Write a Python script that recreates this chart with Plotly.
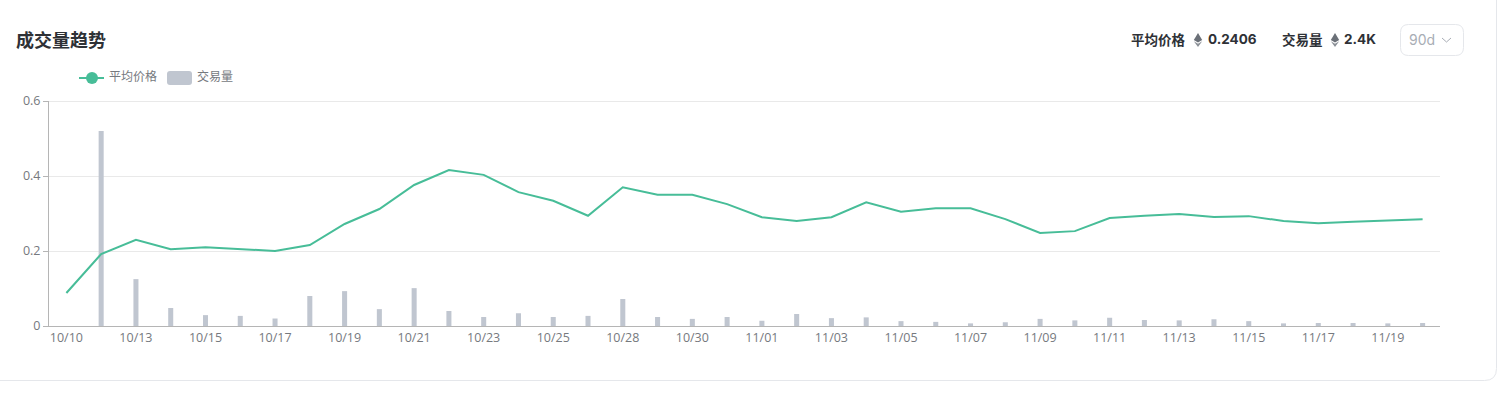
import plotly.graph_objects as go

dates = ["10/10","10/12","10/13","10/14","10/15","10/16","10/17","10/18","10/19","10/20",
         "10/21","10/22","10/23","10/24","10/25","10/26","10/28","10/29","10/30","10/31",
         "11/01","11/02","11/03","11/04","11/05","11/06","11/07","11/08","11/09","11/10",
         "11/11","11/12","11/13","11/14","11/15","11/16","11/17","11/18","11/19","11/20"]
avg_price = [.088,.192,.23,.205,.21,.206,.20,.216,.272,.312,.376,.416,.403,.357,.334,.294,
             .37,.35,.35,.325,.29,.28,.29,.33,.305,.314,.314,.285,.248,.253,.288,.294,.299,
             .291,.293,.28,.274,.278,.282,.285]
volume = [0,.52,.125,.048,.029,.027,.02,.08,.093,.045,.101,.04,.024,.034,.024,.027,.072,.024,
          .019,.024,.014,.032,.021,.023,.013,.011,.007,.01,.019,.015,.022,.016,.015,.018,.013,
          .007,.008,.008,.007,.008]
tick_labels = dates[0:39:2]
y_ticks = [0, 0.2, 0.4, 0.6]
title_text = "成交量趋势"

W, H = 1504, 406
L, R, T, B = 49, 1440, 101, 326
def px(x): return (x - L) / (R - L)
def py(y): return (B - y) / (B - T)
CJK = "Noto Sans CJK SC, Noto Sans, sans-serif"
LATIN = "Inter, Liberation Sans, sans-serif"
GREEN = "#47bd98"
BAR = "#c0c6d0"
MUTED = "#76797e"
DARK = "#2e3136"

fig = go.Figure()
fig.add_trace(go.Scatter(x=dates, y=avg_price, name="平均价格", mode="lines",
                         line=dict(color=GREEN, width=2, shape="linear"), cliponaxis=False))
fig.add_trace(go.Bar(x=dates, y=volume, name="交易量", marker=dict(color=BAR, line=dict(width=0)),
                     width=0.145))

def rrect(x0, y0, x1, y1, r):
    return (f"M{px(x0+r)},{py(y0)} L{px(x1-r)},{py(y0)} Q{px(x1)},{py(y0)} {px(x1)},{py(y0+r)} "
            f"L{px(x1)},{py(y1-r)} Q{px(x1)},{py(y1)} {px(x1-r)},{py(y1)} "
            f"L{px(x0+r)},{py(y1)} Q{px(x0)},{py(y1)} {px(x0)},{py(y1-r)} "
            f"L{px(x0)},{py(y0+r)} Q{px(x0)},{py(y0)} {px(x0+r)},{py(y0)} Z")

def eth(cx, cy):
    top = (f"M{px(cx)},{py(cy-7)} L{px(cx+4.2)},{py(cy)} L{px(cx)},{py(cy+2.5)} "
           f"L{px(cx-4.2)},{py(cy)} Z")
    bottom = (f"M{px(cx-4.2)},{py(cy+1.2)} L{px(cx)},{py(cy+3.7)} L{px(cx+4.2)},{py(cy+1.2)} "
              f"L{px(cx)},{py(cy+7)} Z")
    return [dict(type="path", xref="paper", yref="paper", path=top, line=dict(width=0), fillcolor="#6b7078"),
            dict(type="path", xref="paper", yref="paper", path=bottom, line=dict(width=0), fillcolor="#8b9097")]

shapes = [
    dict(type="path", xref="paper", yref="paper", path=rrect(-20, -20, 1496.5, 380.5, 12),
         line=dict(color="#e5e7eb", width=1), fillcolor="rgba(0,0,0,0)", layer="below"),
    dict(type="path", xref="paper", yref="paper", path=rrect(1400.5, 24.5, 1463.5, 55.5, 8),
         line=dict(color="#e5e7eb", width=1), fillcolor="white", layer="below"),
    dict(type="path", xref="paper", yref="paper",
         path=f"M{px(1442)},{py(38)} L{px(1446.5)},{py(42)} L{px(1451)},{py(38)}",
         line=dict(color="#a8adb5", width=1)),
    dict(type="path", xref="paper", yref="paper", path=rrect(167, 71, 192, 85, 3),
         line=dict(width=0), fillcolor=BAR, layer="below"),
    dict(type="line", xref="paper", yref="paper", x0=px(79), x1=px(104), y0=py(78), y1=py(78),
         line=dict(color=GREEN, width=2), layer="below"),
    dict(type="circle", xref="paper", yref="paper", x0=px(86), x1=px(98), y0=py(72), y1=py(84),
         line=dict(width=0), fillcolor=GREEN, layer="below"),
    dict(type="line", xref="paper", yref="paper", x0=0, x1=1, y0=py(101.5), y1=py(101.5),
         line=dict(color="#e9e9e9", width=1), layer="below"),
] + eth(1198, 40) + eth(1335, 40)

def label(x, y, text, size, color, bold=False, family=CJK):
    t = f"<b>{text}</b>" if bold else text
    return dict(xref="paper", yref="paper", x=px(x - 2), y=py(y), text=t, showarrow=False,
                xanchor="left", yanchor="middle",
                font=dict(size=size, color=color, family=family))

annotations = [
    label(16, 39, title_text, 18, DARK, bold=True),
    label(109, 75.5, "平均价格", 12, MUTED),
    label(197, 75.5, "交易量", 12, MUTED),
    label(1131, 39, "平均价格", 13.5, DARK, bold=True),
    label(1208, 39.5, "0.2406", 13.5, DARK, bold=True, family=LATIN),
    label(1282, 39, "交易量", 13.5, DARK, bold=True),
    label(1344, 39.5, "2.4K", 13.5, DARK, bold=True, family=LATIN),
    label(1409, 39.5, "90d", 14, "#a8adb5", family=LATIN),
]

fig.update_layout(
    width=W, height=H, autosize=False,
    margin=dict(l=L, r=W - R, t=T, b=H - B, pad=0),
    paper_bgcolor="white", plot_bgcolor="white",
    showlegend=False, bargap=0.8, shapes=shapes, annotations=annotations,
    font=dict(family="Open Sans, Noto Sans, sans-serif", size=12, color=MUTED),
    xaxis=dict(type="category", categoryorder="array", categoryarray=dates,
               range=[-0.5, 39.5], tickmode="array", tickvals=tick_labels, ticktext=tick_labels,
               showgrid=False, ticks="", showline=True, linecolor="#b5b5b5", linewidth=1,
               tickfont=dict(size=12.5, color=MUTED), zeroline=False, tickangle=0, automargin=False),
    yaxis=dict(range=[0, 0.6], tickmode="array", tickvals=y_ticks, ticktext=["0", "0.2", "0.4", "0.6"],
               showgrid=True, gridcolor="#e9e9e9", gridwidth=1, ticks="outside", ticklen=5,
               tickcolor="#b5b5b5", showline=True, linecolor="#b5b5b5", linewidth=1,
               zeroline=False, tickfont=dict(size=12.5, color=MUTED), automargin=False),
)

fig.write_html("out.html", config=dict(displayModeBar=False),
               post_script="document.body.style.margin='0';document.body.style.overflow='hidden';")
